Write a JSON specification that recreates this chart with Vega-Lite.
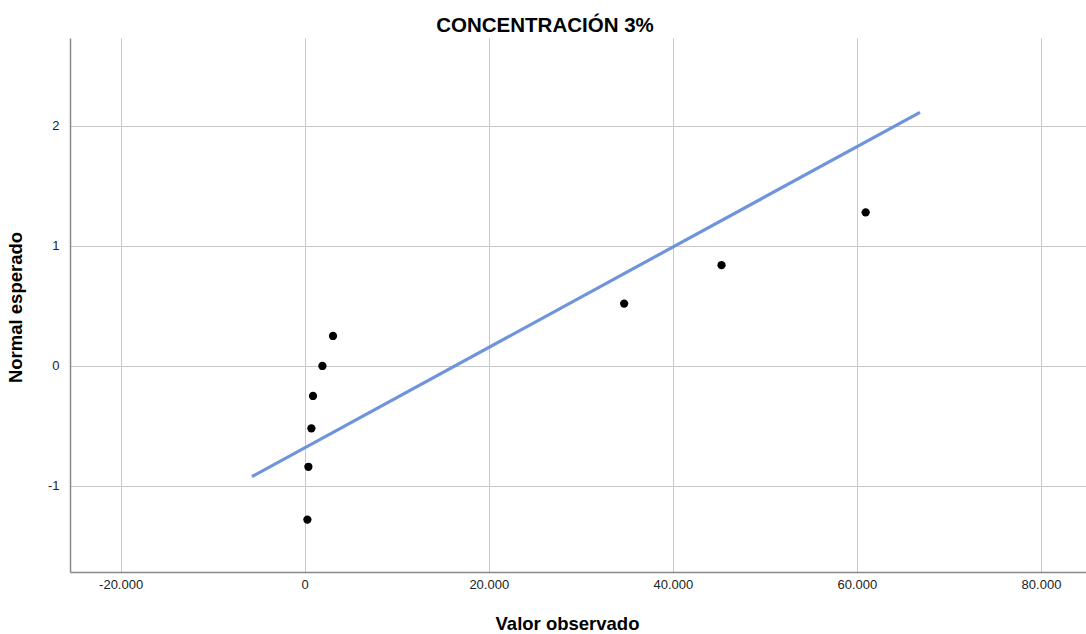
{
  "$schema": "https://vega.github.io/schema/vega-lite/v6.json",
  "width": 1016,
  "height": 534,
  "autosize": {"type": "none"},
  "padding": {"left": 70, "top": 38, "right": 0, "bottom": 62},
  "background": "white",
  "title": {
    "text": "CONCENTRACIÓN 3%",
    "font": "Liberation Sans",
    "fontSize": 20.5,
    "fontWeight": "bold",
    "color": "#000000",
    "anchor": "middle",
    "frame": "group",
    "dx": -33,
    "offset": 2
  },
  "config": {
    "view": {"stroke": null},
    "axis": {
      "labelFont": "Liberation Sans",
      "labelFontSize": 13,
      "labelColor": "#222222",
      "titleFont": "Liberation Sans",
      "titleFontSize": 18.5,
      "titleFontWeight": "bold",
      "titleColor": "#000000",
      "gridColor": "#c8c8c8",
      "gridWidth": 1,
      "domainColor": "#888888",
      "domainWidth": 1.5,
      "ticks": false
    }
  },
  "datasets": {
    "puntos": [
      {"observado": 293, "esperado": -1.28},
      {"observado": 402, "esperado": -0.84},
      {"observado": 728, "esperado": -0.52},
      {"observado": 902, "esperado": -0.25},
      {"observado": 1924, "esperado": 0.0},
      {"observado": 3076, "esperado": 0.25},
      {"observado": 34710, "esperado": 0.52},
      {"observado": 45290, "esperado": 0.84},
      {"observado": 60950, "esperado": 1.28}
    ],
    "recta": [
      {"observado": -5730, "esperado": -0.922},
      {"observado": 66850, "esperado": 2.114}
    ]
  },
  "layer": [
    {
      "data": {"name": "recta"},
      "mark": {"type": "line", "color": "#6f94dc", "strokeWidth": 3.2, "clip": true},
      "encoding": {
        "x": {
          "field": "observado",
          "type": "quantitative",
          "scale": {"domain": [-25500, 84890], "nice": false, "zero": false},
          "axis": {
            "title": "Valor observado",
            "values": [-20000, 0, 20000, 40000, 60000, 80000],
            "labelExpr": "replace(replace(format(datum.value, ',.0f'), ',', '.'), '−', '-')",
            "labelPadding": 6,
            "titleX": 497,
            "titleY": 57,
            "titleBaseline": "alphabetic",
            "titleAnchor": "start",
            "titleAlign": "center"
          }
        },
        "y": {
          "field": "esperado",
          "type": "quantitative",
          "scale": {"domain": [-1.717, 2.733], "nice": false, "zero": false},
          "axis": {
            "title": "Normal esperado",
            "values": [-1, 0, 1, 2],
            "labelExpr": "replace(format(datum.value, 'd'), '−', '-')",
            "labelPadding": 11,
            "titleX": -45,
            "titleY": 269,
            "titleAlign": "center",
            "titleAnchor": "start"
          }
        }
      }
    },
    {
      "data": {"name": "puntos"},
      "mark": {"type": "point", "filled": true, "color": "#000000", "opacity": 1, "size": 68},
      "encoding": {
        "x": {"field": "observado", "type": "quantitative"},
        "y": {"field": "esperado", "type": "quantitative"}
      }
    }
  ]
}
